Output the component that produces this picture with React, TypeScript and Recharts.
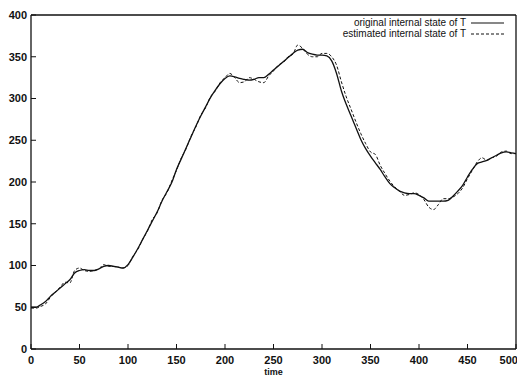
import { LineChart, Line, XAxis, YAxis } from 'recharts';

// time steps (every 5)
const times = [
  0, 5, 10, 15, 20, 25, 30, 35, 40, 45, 50, 55, 60, 65, 70, 75, 80, 85, 90, 95,
  100, 105, 110, 115, 120, 125, 130, 135, 140, 145, 150, 155, 160, 165, 170, 175, 180, 185, 190, 195,
  200, 205, 210, 215, 220, 225, 230, 235, 240, 245, 250, 255, 260, 265, 270, 275, 280, 285, 290, 295,
  300, 305, 310, 315, 320, 325, 330, 335, 340, 345, 350, 355, 360, 365, 370, 375, 380, 385, 390, 395,
  400, 405, 410, 415, 420, 425, 430, 435, 440, 445, 450, 455, 460, 465, 470, 475, 480, 485, 490, 495,
  500,
];

const original = [
  50, 50, 53, 57, 63, 68, 73, 78, 83, 91, 94, 95, 94, 94, 96, 99, 100, 99, 98, 97,
  101, 110, 120, 131, 142, 153, 164, 177, 188, 199, 215, 228, 241, 254, 267, 279, 290, 301, 310, 318,
  324, 327, 326, 324, 323, 322, 323, 325, 325, 329, 334, 339, 344, 349, 354, 358, 359, 355, 353, 352,
  352, 351, 345, 330, 309, 293, 279, 265, 251, 240, 231, 223, 215, 206, 198, 193, 189, 187, 186, 186,
  184, 181, 177, 177, 177, 177, 178, 183, 189, 196, 206, 215, 222, 224, 226, 229, 232, 235, 236, 235,
  234,
];

const estimated = [
  49, 49, 51, 54, 62, 68, 74, 80, 79, 94, 97, 94, 93, 94, 96, 101, 99, 99, 98, 97,
  100, 111, 119, 131, 141, 155, 163, 178, 187, 201, 214, 229, 240, 255, 266, 280, 289, 302, 309, 319,
  325, 330, 325, 319, 320, 325, 323, 320, 319, 327, 333, 340, 343, 350, 353, 364, 360, 353, 350, 350,
  354, 354, 350, 340, 320, 302, 287, 272, 258, 246, 236, 233, 220, 210, 201, 194, 189, 184, 185, 187,
  185, 179, 170, 167, 173, 180, 180, 182, 186, 193, 204, 214, 224, 229, 226, 229, 231, 236, 237, 234,
  234,
];

const xTicks = [0, 50, 100, 150, 200, 250, 300, 350, 400, 450, 500];
const yTicks = [0, 50, 100, 150, 200, 250, 300, 350, 400];

const legendItems = [
  { label: 'original internal state of T', dash: undefined },
  { label: 'estimated internal state of T', dash: '3 2' },
];

const data = times.map((t, i) => ({ t, original: original[i], estimated: estimated[i] }));

const font = 'Liberation Sans, Arial, sans-serif';
const tickFont = { fontSize: 11, fontWeight: 700, fill: '#111', fontFamily: font };
const frame = { stroke: '#111', strokeWidth: 1.3 };

function LegendBox() {
  return (
    <table
      style={{
        position: 'absolute',
        top: 17,
        right: 13,
        borderCollapse: 'collapse',
        fontFamily: font,
        fontSize: 10,
        color: '#111',
      }}
    >
      <tbody>
        {legendItems.map((it) => (
          <tr key={it.label} style={{ height: 11 }}>
            <td style={{ textAlign: 'right', padding: '0 5px 0 0', lineHeight: '11px' }}>{it.label}</td>
            <td style={{ padding: 0 }}>
              <svg width={33} height={11} style={{ display: 'block' }}>
                <line x1={0} x2={33} y1={6} y2={6} stroke="#111" strokeWidth={1.1} strokeDasharray={it.dash} />
              </svg>
            </td>
          </tr>
        ))}
      </tbody>
    </table>
  );
}

export default function App() {
  return (
    <div style={{ position: 'absolute', left: 0, top: 0, width: 517, height: 376, background: '#fff' }}>
      <LineChart width={517} height={376} data={data} margin={{ top: 14, right: 0, left: 0, bottom: 0 }}>
        <XAxis
          dataKey="t"
          type="number"
          domain={[0, 500]}
          ticks={xTicks}
          height={27}
          tick={tickFont}
          tickSize={-5}
          tickMargin={12}
          tickLine={{ stroke: '#111' }}
          axisLine={frame}
          label={{ value: 'time', position: 'insideBottom', offset: 1, style: { ...tickFont, fontSize: 9 } }}
        />
        <XAxis
          xAxisId="top"
          dataKey="t"
          type="number"
          orientation="top"
          domain={[0, 500]}
          ticks={xTicks}
          height={1}
          tick={false}
          tickSize={-5}
          tickLine={{ stroke: '#111' }}
          axisLine={frame}
        />
        <YAxis
          type="number"
          domain={[0, 400]}
          ticks={yTicks}
          width={31}
          tick={tickFont}
          tickSize={-5}
          tickMargin={9}
          tickLine={{ stroke: '#111' }}
          axisLine={frame}
        />
        <YAxis
          yAxisId="right"
          orientation="right"
          type="number"
          domain={[0, 400]}
          ticks={yTicks}
          width={1}
          tick={false}
          tickSize={-5}
          tickLine={{ stroke: '#111' }}
          axisLine={frame}
        />
        <Line
          type="monotone"
          dataKey="original"
          name="original internal state of T"
          stroke="#111"
          strokeWidth={1.3}
          dot={false}
          isAnimationActive={false}
        />
        <Line
          type="monotone"
          dataKey="estimated"
          name="estimated internal state of T"
          stroke="#111"
          strokeWidth={1}
          strokeDasharray="3 2"
          dot={false}
          isAnimationActive={false}
        />
        {/* invisible series so the mirrored top/right axes get drawn */}
        <Line
          xAxisId="top"
          yAxisId="right"
          dataKey="original"
          stroke="none"
          dot={false}
          legendType="none"
          isAnimationActive={false}
        />
      </LineChart>
      <LegendBox />
    </div>
  );
}
